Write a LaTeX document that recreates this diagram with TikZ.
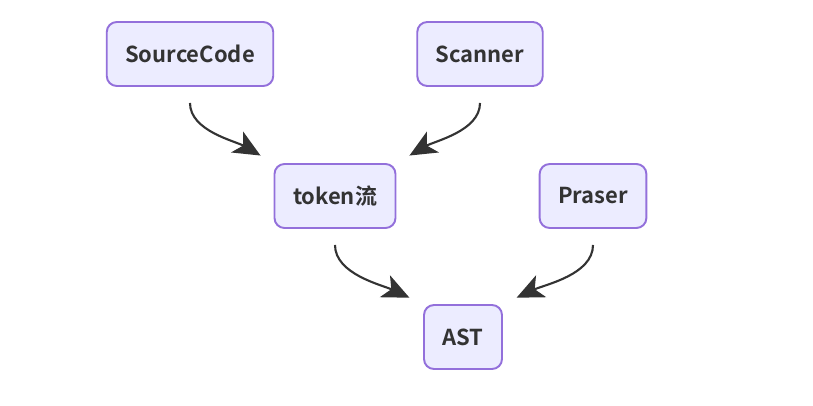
\documentclass[tikz,border=0pt]{standalone}
\usepackage{fontspec}
\setmainfont{Noto Sans CJK SC}[BoldFont={* Bold}]
\usepackage{xcolor}
\usetikzlibrary{positioning,arrows.meta,calc}
\definecolor{boxfill}{HTML}{ECECFF}
\definecolor{boxline}{HTML}{9370DB}
\definecolor{ink}{HTML}{333333}
\tikzset{
 flow/.style={x=0.02cm,y=0.02cm,
   node distance=1.5cm,
   font=\bfseries\fontsize{12.5}{14}\selectfont},
 stage/.style={rectangle,rounded corners=0.2cm,draw=boxline,line width=1.1pt,
   fill=boxfill,text=ink,minimum height=1.28cm,inner xsep=0.37cm},
 feed/.style={-{Stealth[length=0.54cm,width=0.48cm,inset=0.14cm]},draw=ink,
   line width=1.2pt,shorten <=0.32cm,shorten >=0.3cm}
 }
\begin{document}
\begin{tikzpicture}[flow]
      \useasboundingbox (0,0) rectangle (813,-405);
      \node[stage] (src) at (190,-54) {SourceCode};
      \node[stage] (scan) at (480,-54) {Scanner};
      \node[stage] (tok) at (335,-196) {token流};
      \node[stage] (pars) at (593,-196) {Praser};
      \node[stage] (ast) at (463,-337) {AST};
      \draw[feed] (src.south) to[out=-90,in=150] (tok.north west);
      \draw[feed] (scan.south) to[out=-90,in=30] (tok.north east);
      \draw[feed] (tok.south) to[out=-90,in=155] (ast.north west);
      \draw[feed] (pars.south) to[out=-90,in=25] (ast.north east);
    \end{tikzpicture}
\end{document}
